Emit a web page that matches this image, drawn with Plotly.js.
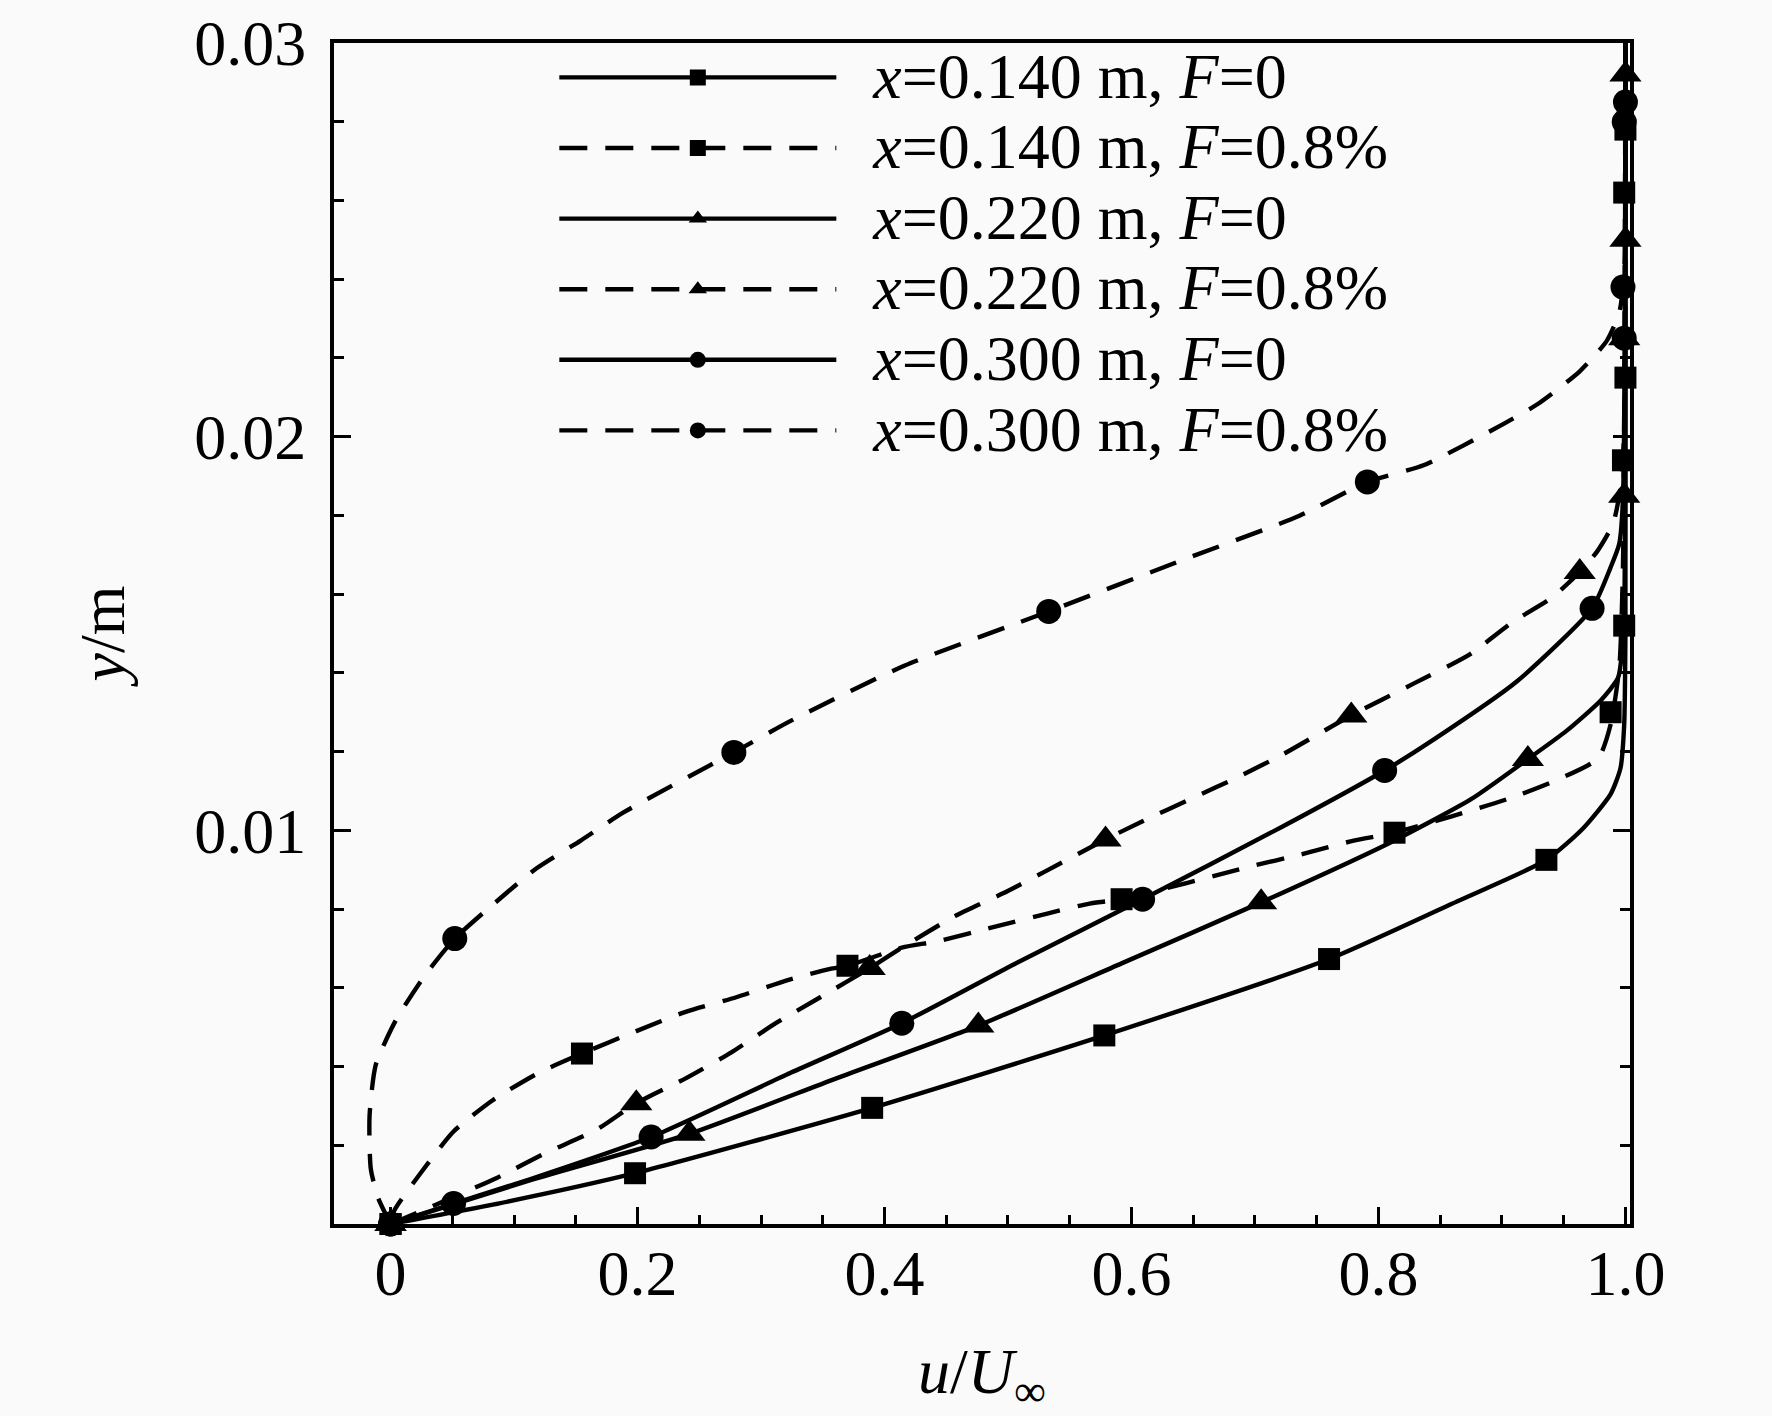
<!DOCTYPE html>
<html lang="en">

<head>
    <meta charset="UTF-8">
    <script src="https://cdn.plot.ly/plotly-3.0.1.min.js"></script>
    <title>u/U profiles</title>
    <style>
        body { margin: 0; background: #fafafa; }
    </style>
</head>

<body>
    <div id="chart" style="width:1772px;height:1416px;"></div>

    <script>
        // series names
        var names = [
            '<i>x</i>=0.140 m, <i>F</i>=0',
            '<i>x</i>=0.140 m, <i>F</i>=0.8%',
            '<i>x</i>=0.220 m, <i>F</i>=0',
            '<i>x</i>=0.220 m, <i>F</i>=0.8%',
            '<i>x</i>=0.300 m, <i>F</i>=0',
            '<i>x</i>=0.300 m, <i>F</i>=0.8%'
        ]

        // x=0.140 m, F=0
        var s1x = [0, 0.095, 0.198, 0.390, 0.578, 0.760, 0.864, 0.936, 0.966, 0.988, 0.996, 0.999, 1.0, 1.0]
        var s1y = [0, 0.00057, 0.00129, 0.00295, 0.00479, 0.00673, 0.00820, 0.00925, 0.01006, 0.01092, 0.01158, 0.01269, 0.0150, 0.030]
        var s1mx = [0, 0.198, 0.390, 0.578, 0.760, 0.936, 0.999, 1.0, 1.0]
        var s1my = [0, 0.00129, 0.00295, 0.00479, 0.00673, 0.00925, 0.0152, 0.0215, 0.0278]

        // x=0.140 m, F=0.8%
        var s2x = [0, 0.003, 0.025, 0.051, 0.083, 0.120, 0.155, 0.199, 0.239, 0.280, 0.321, 0.356, 0.370, 0.414, 0.444, 0.488, 0.531, 0.566, 0.592, 0.696, 0.739, 0.780, 0.813, 0.905, 0.943, 0.978, 0.988, 0.995, 0.998, 1.0]
        var s2y = [0, 0.00034, 0.00132, 0.00235, 0.00315, 0.00384, 0.00433, 0.00490, 0.00539, 0.00576, 0.00619, 0.00648, 0.00656, 0.00702, 0.00719, 0.00754, 0.00788, 0.00814, 0.00825, 0.00908, 0.00940, 0.00974, 0.00994, 0.01080, 0.01126, 0.01183, 0.01269, 0.01413, 0.0167, 0.030]
        var s2mx = [0, 0.155, 0.370, 0.592, 0.813, 0.988, 0.998, 0.999]
        var s2my = [0, 0.00433, 0.00656, 0.00825, 0.00994, 0.0130, 0.0194, 0.0262]

        // x=0.220 m, F=0
        var s3x = [0, 0.114, 0.242, 0.361, 0.476, 0.592, 0.705, 0.809, 0.875, 0.921, 0.952, 0.980, 0.994, 0.997, 0.999, 1.0]
        var s3y = [0, 0.00112, 0.00229, 0.00370, 0.00504, 0.00662, 0.00817, 0.00968, 0.01079, 0.01181, 0.01252, 0.01330, 0.01387, 0.01447, 0.01556, 0.030]
        var s3mx = [0, 0.242, 0.476, 0.705, 0.921, 0.999, 1.0]
        var s3my = [0, 0.00229, 0.00504, 0.00817, 0.01181, 0.0185, 0.0250]

        // x=0.220 m, F=0.8%
        var s4x = [0, 0.022, 0.049, 0.086, 0.126, 0.166, 0.199, 0.239, 0.276, 0.312, 0.348, 0.388, 0.414, 0.457, 0.496, 0.531, 0.579, 0.609, 0.648, 0.688, 0.722, 0.778, 0.828, 0.874, 0.909, 0.940, 0.963, 0.977, 0.990, 0.996, 0.999, 1.0]
        var s4y = [0, 0.00029, 0.00066, 0.00117, 0.00181, 0.00238, 0.00307, 0.00370, 0.00436, 0.00510, 0.00576, 0.00650, 0.00702, 0.00782, 0.00840, 0.00897, 0.00977, 0.01023, 0.01080, 0.01138, 0.01192, 0.01292, 0.01372, 0.01447, 0.01530, 0.01590, 0.01656, 0.01708, 0.01779, 0.01871, 0.02014, 0.030]
        var s4mx = [0, 0.199, 0.388, 0.579, 0.778, 0.963, 0.999, 1.0]
        var s4my = [0, 0.00307, 0.00650, 0.00977, 0.01292, 0.01656, 0.0225, 0.0292]

        // x=0.300 m, F=0
        var s5x = [0, 0.051, 0.114, 0.211, 0.324, 0.414, 0.505, 0.609, 0.722, 0.805, 0.844, 0.912, 0.973, 0.988, 0.995, 0.998, 1.0]
        var s5y = [0, 0.00052, 0.00115, 0.00221, 0.00384, 0.00510, 0.00660, 0.00825, 0.01009, 0.01152, 0.01229, 0.01378, 0.01564, 0.01668, 0.01728, 0.01842, 0.030]
        var s5mx = [0, 0.051, 0.211, 0.414, 0.609, 0.805, 0.973, 0.999, 1.0]
        var s5my = [0, 0.00052, 0.00221, 0.00510, 0.00825, 0.01152, 0.01564, 0.0225, 0.0285]

        // x=0.300 m, F=0.8%
        var s6x = [0, -0.010, -0.016, -0.017, -0.012, 0.004, 0.027, 0.052, 0.085, 0.118, 0.154, 0.189, 0.278, 0.324, 0.416, 0.533, 0.645, 0.736, 0.791, 0.837, 0.901, 0.929, 0.963, 0.985, 0.995, 0.999, 1.0]
        var s6y = [0, 0.00066, 0.00140, 0.00275, 0.00404, 0.00516, 0.00628, 0.00725, 0.00817, 0.00903, 0.00974, 0.01046, 0.01198, 0.01278, 0.01418, 0.01556, 0.01691, 0.01799, 0.01885, 0.01928, 0.02032, 0.02083, 0.02166, 0.02244, 0.02315, 0.02415, 0.030]
        var s6mx = [0, 0.052, 0.278, 0.533, 0.791, 0.998, 0.999]
        var s6my = [0, 0.00725, 0.01198, 0.01556, 0.01885, 0.0238, 0.0280]

        // axis ticks
        var xTickVals = [0, 0.2, 0.4, 0.6, 0.8, 1.0]
        var xTickText = ['0', '0.2', '0.4', '0.6', '0.8', '1.0']
        var yTickVals = [0.01, 0.02, 0.03]
        var yTickText = ['0.01', '0.02', '0.03']

        var lineXs = [s1x, s2x, s3x, s4x, s5x, s6x]
        var lineYs = [s1y, s2y, s3y, s4y, s5y, s6y]
        var markXs = [s1mx, s2mx, s3mx, s4mx, s5mx, s6mx]
        var markYs = [s1my, s2my, s3my, s4my, s5my, s6my]
        var symbols = ['square', 'square', 'triangle-up', 'triangle-up', 'circle', 'circle']
        var msizes = [22, 22, 28, 28, 25, 25]
        var dashes = ['solid', '28px,18px', 'solid', '28px,18px', 'solid', '28px,18px']

        var traces = []
        for (var i = 0; i < 6; i++) {
            traces.push({
                x: lineXs[i],
                y: lineYs[i],
                mode: 'lines',
                line: { color: '#000', width: 4.4, dash: dashes[i], shape: 'spline', smoothing: 0.6 },
                showlegend: false,
                hoverinfo: 'skip'
            })
            traces.push({
                x: markXs[i],
                y: markYs[i],
                mode: 'markers',
                marker: { color: '#000', size: msizes[i], symbol: symbols[i] },
                cliponaxis: false,
                showlegend: false
            })
        }
        // legend entries (bigger text than the row spacing font)
        for (var j = 0; j < 6; j++) {
            traces.push({
                x: [null],
                y: [null],
                name: '<span style="font-size:64px">\u00a0\u00a0' + names[j] + '</span>',
                mode: 'lines+markers',
                line: { color: '#000', width: 4.4, dash: dashes[j] },
                marker: { color: '#000', size: msizes[j], symbol: symbols[j] }
            })
        }

        var font = 'Liberation Serif, Times New Roman, serif'

        var layout = {
            width: 1772,
            height: 1416,
            margin: { l: 334, r: 142, t: 43, b: 192 },
            paper_bgcolor: '#fafafa',
            plot_bgcolor: '#fafafa',
            font: { family: font, size: 64, color: '#000' },
            showlegend: true,
            legend: {
                x: 0.17,
                y: 1.005,
                xanchor: 'left',
                yanchor: 'top',
                bgcolor: 'rgba(0,0,0,0)',
                font: { family: font, size: 52, color: '#000' },
                itemwidth: 277
            },
            xaxis: {
                range: [-0.0458, 1.0037],
                tickvals: xTickVals,
                ticktext: xTickText,
                ticks: 'inside',
                ticklen: 17,
                tickwidth: 3,
                tickcolor: '#000',
                ticklabelstandoff: -10,
                minor: { dtick: 0.05, ticks: 'inside', ticklen: 9, tickwidth: 3, tickcolor: '#000' },
                showline: true,
                linewidth: 4,
                linecolor: '#000',
                mirror: true,
                showgrid: false,
                zeroline: false,
                title: { text: '<i>u</i>/<i>U</i><sub>∞</sub>', font: { size: 64 }, standoff: 70 }
            },
            yaxis: {
                range: [0, 0.03],
                tickvals: yTickVals,
                ticktext: yTickText,
                ticks: 'inside',
                ticklen: 17,
                tickwidth: 3,
                tickcolor: '#000',
                ticklabelstandoff: 11,
                minor: { dtick: 0.002, ticks: 'inside', ticklen: 10, tickwidth: 3, tickcolor: '#000' },
                showline: true,
                linewidth: 4,
                linecolor: '#000',
                mirror: 'ticks',
                showgrid: false,
                zeroline: false,
                title: { text: '<i>y</i>/m', font: { size: 64 }, standoff: 50 }
            }
        }

        Plotly.newPlot('chart', traces, layout, { staticPlot: true })
    </script>
</body>

</html>
